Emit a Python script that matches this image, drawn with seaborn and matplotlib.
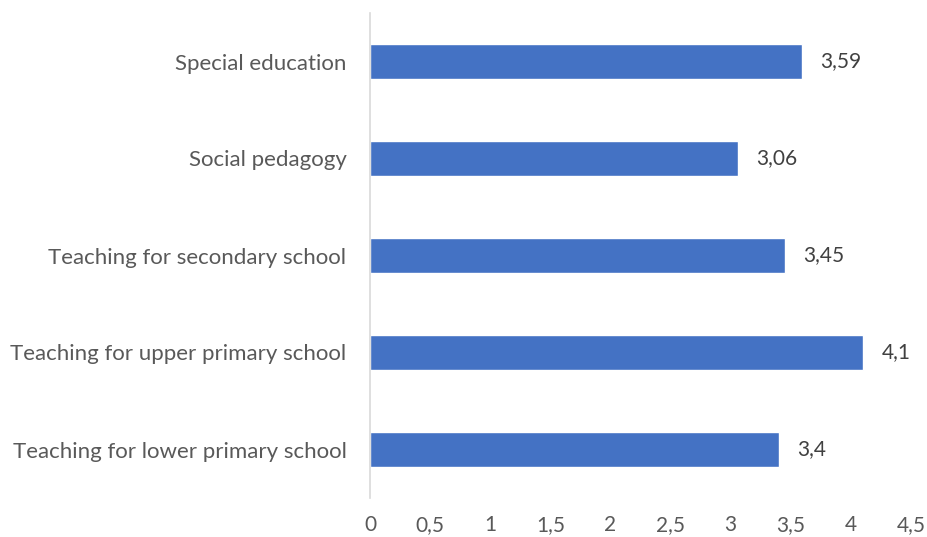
import matplotlib
matplotlib.use("Agg")
import matplotlib.pyplot as plt
import seaborn as sns
import pandas as pd

categories = ["Special education", "Social pedagogy", "Teaching for secondary school",
              "Teaching for upper primary school", "Teaching for lower primary school"]
values = [3.59, 3.06, 3.45, 4.1, 3.4]
value_labels = ["3,59", "3,06", "3,45", "4,1", "3,4"]
x_ticks = [0, 0.5, 1, 1.5, 2, 2.5, 3, 3.5, 4, 4.5]
x_tick_labels = ["0", "0,5", "1", "1,5", "2", "2,5", "3", "3,5", "4", "4,5"]

sns.set_theme(style="white")
plt.rcParams['font.family'] = ['Lato', 'DejaVu Sans']

df = pd.DataFrame({"category": categories, "value": values})

fig = plt.figure(figsize=(9.28, 5.37), dpi=100)
ax = fig.add_axes([370/928, 1-498/537, 541/928, 485/537])
sns.barplot(data=df, y="category", x="value", orient="h", color="#4472C4",
            saturation=1, width=0.355, ax=ax, order=categories)

text_color = "#595959"
for i, (v, lab) in enumerate(zip(values, value_labels)):
    ax.text(v + 0.155, i, lab, va="center", ha="left", fontsize=15, color="#404040")

ax.set_xlim(0, 4.5)
ax.set_ylim(4.5, -0.5)
ax.set_xticks(x_ticks)
ax.set_xticklabels(x_tick_labels, fontsize=15, color=text_color)
ax.set_yticklabels(categories, fontsize=16, color=text_color)
ax.tick_params(axis="x", length=0, pad=12)
ax.tick_params(axis="y", length=0, pad=17)
ax.set_xlabel("")
ax.set_ylabel("")
for s in ["top", "right", "bottom"]:
    ax.spines[s].set_visible(False)
ax.spines["left"].set_color("#D9D9D9")
ax.spines["left"].set_linewidth(1.2)
ax.grid(False)

fig.savefig("out.png", dpi=100, facecolor="white")
